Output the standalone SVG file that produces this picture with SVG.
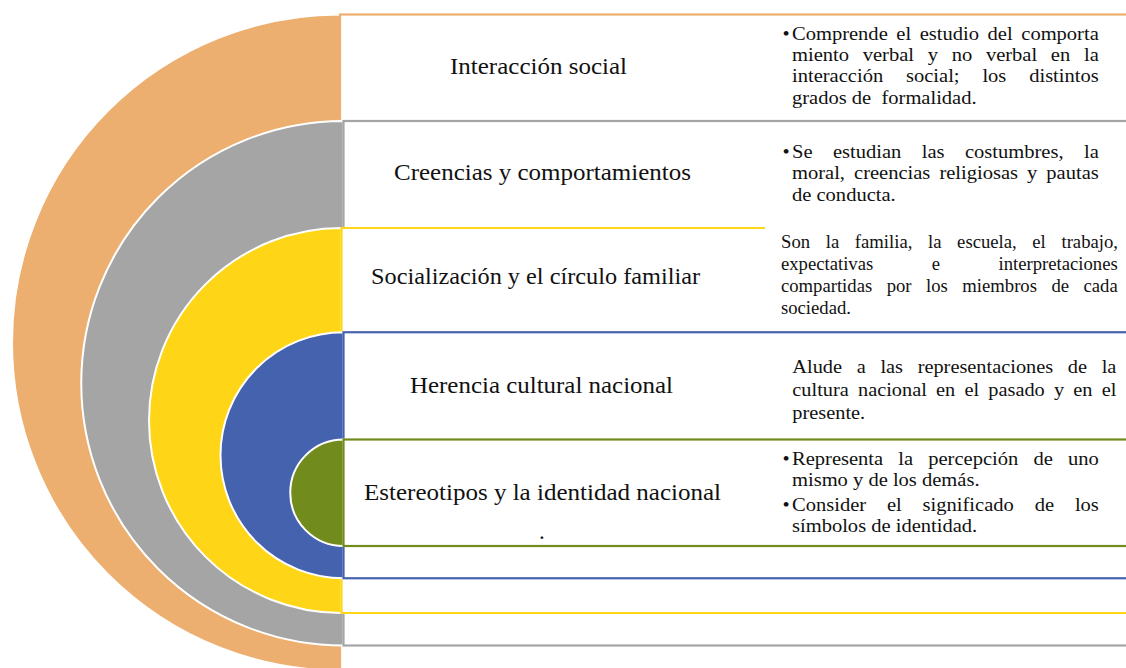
<svg xmlns="http://www.w3.org/2000/svg" width="1126" height="668" viewBox="0 0 1126 668">
<style>
.t{font-family:"Liberation Serif","Times New Roman",serif;font-size:23px;fill:#111}
.d{font-family:"Liberation Serif","Times New Roman",serif;font-size:18.67px;fill:#111}
.disk{stroke:#fff;stroke-width:2}
.box{fill:#fff;stroke-width:2.2}
</style>
<rect width="1126" height="668" fill="#fff"/>

<g id="interaccion-social">
  <path class="disk" fill="#EDAF6F" d="M340,14.5 A328,328 0 0 0 340,670.5 Z"/>
  <rect class="box" stroke="#EDAF6F" x="340" y="14.5" width="800" height="680"/>
  <text class="t" x="450" y="74.3" textLength="177" lengthAdjust="spacingAndGlyphs">Interacción social</text>
  <g class="d" transform="translate(792 0) scale(1.1 1)">
    <text x="-8.7" y="40">•</text>
    <text x="0" y="40" word-spacing="3.15">Comprende el estudio del comporta</text>
    <text x="0" y="61.2" word-spacing="7.8">miento verbal y no verbal en la</text>
    <text x="0" y="82.4" word-spacing="16.1">interacción social; los distintos</text>
    <text x="0" y="103.6" xml:space="preserve">grados de  formalidad.</text>
  </g>
</g>

<g id="creencias-comportamientos">
  <path class="disk" fill="#A5A5A5" d="M343.5,121 A262.25,262.25 0 0 0 343.5,645.5 Z"/>
  <rect class="box" stroke="#A5A5A5" x="343.5" y="121" width="800" height="524.5"/>
  <text class="t" x="394" y="180" textLength="297" lengthAdjust="spacingAndGlyphs">Creencias y comportamientos</text>
  <g class="d" transform="translate(792 0) scale(1.1 1)">
    <text x="-8.7" y="158">•</text>
    <text x="0" y="158" word-spacing="13.9">Se estudian las costumbres, la</text>
    <text x="0" y="179.5" word-spacing="3.55">moral, creencias religiosas y pautas</text>
    <text x="0" y="201">de conducta.</text>
  </g>
</g>

<g id="socializacion-circulo-familiar">
  <path class="disk" fill="#FED617" d="M341.5,228 A192.5,192.5 0 0 0 341.5,613 Z"/>
  <rect fill="#fff" x="341.5" y="228" width="800" height="385"/>
  <path fill="none" stroke="#FED617" stroke-width="2.2" d="M765,228 H341.5 V613 H1130"/>
  <text class="t" x="371" y="284.3" textLength="329" lengthAdjust="spacingAndGlyphs">Socialización y el círculo familiar</text>
  <g class="d" transform="translate(781 0)">
    <text x="0" y="248" word-spacing="11">Son la familia, la escuela, el trabajo,</text>
    <text x="0" y="270" word-spacing="53.9">expectativas e interpretaciones</text>
    <text x="0" y="292" word-spacing="9.84">compartidas por los miembros de cada</text>
    <text x="0" y="314">sociedad.</text>
  </g>
</g>

<g id="herencia-cultural-nacional">
  <path class="disk" fill="#4562AF" d="M343.5,332.25 A123,123 0 0 0 343.5,578.25 Z"/>
  <rect class="box" stroke="#4562AF" x="343.5" y="332.25" width="800" height="246"/>
  <text class="t" x="410" y="392.7" textLength="263" lengthAdjust="spacingAndGlyphs">Herencia cultural nacional</text>
  <g class="d" transform="translate(792.3 0) scale(1.09 1)">
    <text x="0" y="373" word-spacing="8.8">Alude a las representaciones de la</text>
    <text x="0" y="396" word-spacing="3.77">cultura nacional en el pasado y en el</text>
    <text x="0" y="419">presente.</text>
  </g>
</g>

<g id="estereotipos-identidad-nacional">
  <path class="disk" fill="#718B1D" d="M343.5,439.5 A53.25,53.25 0 0 0 343.5,546 Z"/>
  <rect class="box" stroke="#718B1D" x="343.5" y="439.5" width="800" height="106.5"/>
  <text class="t" x="364" y="500" textLength="357" lengthAdjust="spacingAndGlyphs">Estereotipos y la identidad nacional</text>
  <text class="t" x="539" y="539">.</text>
  <g class="d" transform="translate(792 0) scale(1.1 1)">
    <text x="-8.7" y="465">•</text>
    <text x="0" y="465" word-spacing="9.1">Representa la percepción de uno</text>
    <text x="0" y="486">mismo y de los demás.</text>
    <text x="-8.7" y="511">•</text>
    <text x="0" y="511" word-spacing="14.3">Consider el significado de los</text>
    <text x="0" y="532">símbolos de identidad.</text>
  </g>
</g>
</svg>
